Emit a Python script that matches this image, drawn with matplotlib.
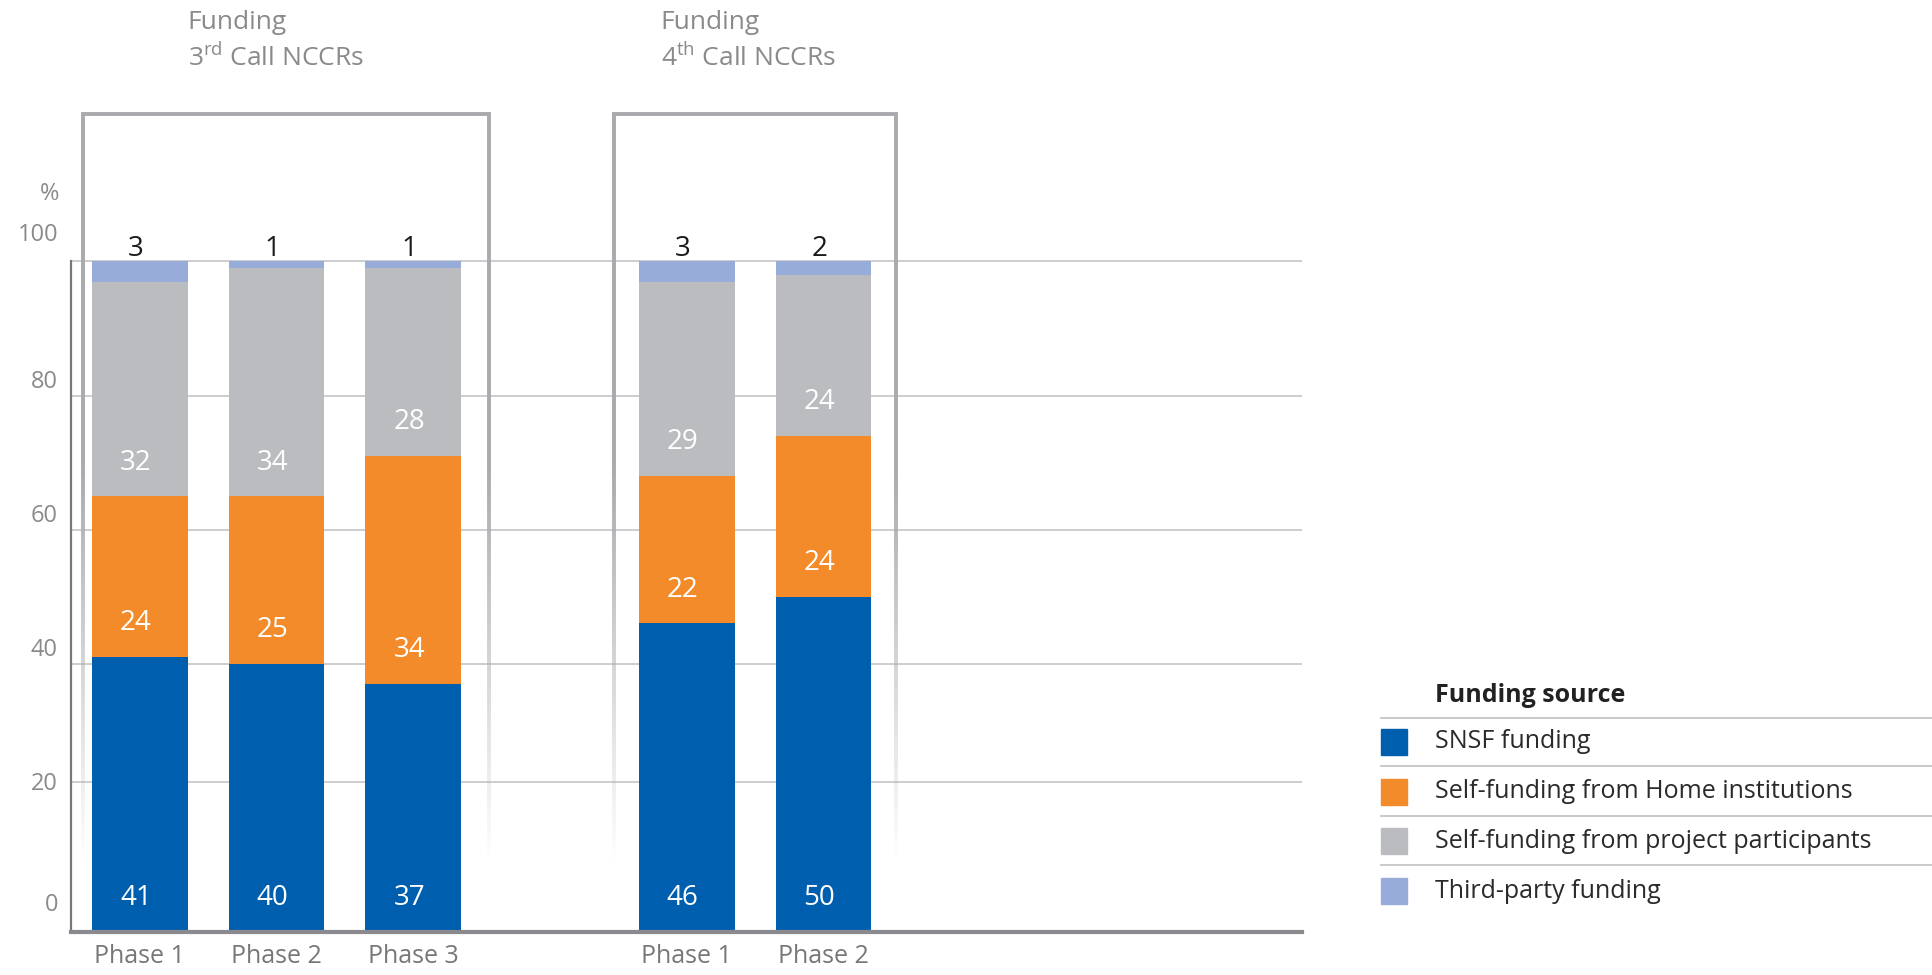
import matplotlib
matplotlib.use('Agg')
import matplotlib.pyplot as plt
import numpy as np
from matplotlib.collections import LineCollection
from matplotlib.patches import Rectangle
from matplotlib.lines import Line2D

plt.rcParams['font.family'] = ['Open Sans', 'DejaVu Sans']
plt.rcParams['mathtext.fontset'] = 'custom'
plt.rcParams['mathtext.rm'] = 'Open Sans'
plt.rcParams['mathtext.it'] = 'Open Sans'

# data
phases = ['Phase 1', 'Phase 2', 'Phase 3', 'Phase 1', 'Phase 2']
slots = [0, 1, 2, 4, 5]
group_titles = [('Funding', '3$^{\\rm rd}$ Call NCCRs'), ('Funding', '4$^{\\rm th}$ Call NCCRs')]
sources = ['SNSF funding', 'Self-funding from Home institutions',
           'Self-funding from project participants', 'Third-party funding']
snsf = [41, 40, 37, 46, 50]
home = [24, 25, 34, 22, 24]
participants = [32, 34, 28, 29, 24]
third_party = [3, 1, 1, 3, 2]
yticks = [0, 20, 40, 60, 80, 100]
# the original draws its lowest gridline a little above 20
grid_levels = [22.4, 40, 60, 80, 100]

# layout of the group boxes (x left, x right, title x) in slot units
box_extents = [(-0.414, 2.55, 0.35), (3.47, 5.53, 3.81)]

colors = ['#005eae', '#f48b2a', '#bbbcc0', '#97acd9']
GRID = '#c9c9cc'
BOX = '#a9aaae'
TXT_GREY = '#8a8a8d'

fig = plt.figure(figsize=(19.32, 9.75), dpi=100)
ax = fig.add_axes([0.037, 0.0442, 0.637, 0.894])
ax.set_xlim(-0.5, 8.5)
ax.set_ylim(0, 130)

# gridlines
for v in grid_levels:
    ax.axhline(v, color=GRID, lw=1.3, zorder=0)

# stacked bars
series = [snsf, home, participants, third_party]
bottom = np.zeros(len(slots))
for i, vals in enumerate(series):
    ax.bar(slots, vals, bottom=bottom, width=0.70, color=colors[i], zorder=3)
    for x, b, v in zip(slots, bottom, vals):
        if i < 3:
            ax.text(x - 0.03, b + 5, str(v), color='white', fontsize=20,
                    ha='center', va='center', zorder=5)
        else:
            ax.text(x - 0.03, b + v + 1.8, str(v), color='#1a1a1a', fontsize=20,
                    ha='center', va='center', zorder=5)
    bottom = bottom + np.array(vals)


# group boxes with fading sides
def faded_side(x, top=122, solid_to=70, fade_to=10, n=60):
    ax.plot([x, x], [top, solid_to], color=BOX, lw=2.8, zorder=1,
            solid_capstyle='butt')
    ys = np.linspace(solid_to, fade_to, n + 1)
    segs = [[(x, ys[k]), (x, ys[k + 1])] for k in range(n)]
    rgba = np.array([matplotlib.colors.to_rgba(BOX)] * n)
    rgba[:, 3] = np.linspace(1, 0, n)
    ax.add_collection(LineCollection(segs, colors=rgba, linewidths=2.8, zorder=1))


for (l1, l2), (left, right, tx0) in zip(group_titles, box_extents):
    ax.plot([left, right], [122, 122], color=BOX, lw=2.8, zorder=1,
            solid_capstyle='projecting', clip_on=False)
    faded_side(left)
    faded_side(right)
    ax.text(tx0, 135.7, l1, color=TXT_GREY, fontsize=19,
            ha='left', va='center', clip_on=False)
    ax.text(tx0, 130.3, l2, color=TXT_GREY, fontsize=19,
            ha='left', va='center', clip_on=False)

# axes styling
for s in ['top', 'right']:
    ax.spines[s].set_visible(False)
ax.spines['left'].set_bounds(0, 100)
ax.spines['left'].set_color('#77777a')
ax.spines['left'].set_linewidth(1.6)
ax.spines['bottom'].set_color('#8a8a8e')
ax.spines['bottom'].set_linewidth(3)
ax.spines['bottom'].set_zorder(4)

ax.set_yticks([])
ytr = ax.get_yaxis_transform()
for v in yticks:
    yy = v + 2 if 0 < v < 100 else v + 4
    ax.text(-0.011, yy, str(v), transform=ytr, ha='right', va='center',
            color=TXT_GREY, fontsize=17)
ax.text(-0.018, 110, '%', transform=ytr, ha='center', va='center',
        color=TXT_GREY, fontsize=17)

ax.set_xticks(slots)
ax.set_xticklabels(phases, fontsize=18, color='#77777a')
ax.tick_params(axis='x', length=0, pad=9)

# legend drawn by hand
lx0, lx1, tx = 0.715, 1.0, 0.743
fig.text(tx, 0.287, 'Funding source', fontsize=18, fontweight='bold',
         color='#222222', va='center', ha='left')
line_ys = [0.264, 0.214, 0.163, 0.1125]
item_ys = [0.239, 0.188, 0.137, 0.086]
for ly in line_ys:
    fig.add_artist(Line2D([lx0, lx1], [ly, ly], color='#c4c5c8', lw=1.3))
for lab, col, iy in zip(sources, colors, item_ys):
    fig.add_artist(Rectangle((lx0, iy - 0.0133), 0.0134, 0.0266,
                             color=col, transform=fig.transFigure))
    fig.text(tx, iy, lab, fontsize=18, color='#2a2a2a', va='center', ha='left')

fig.savefig('out.png', dpi=100)
